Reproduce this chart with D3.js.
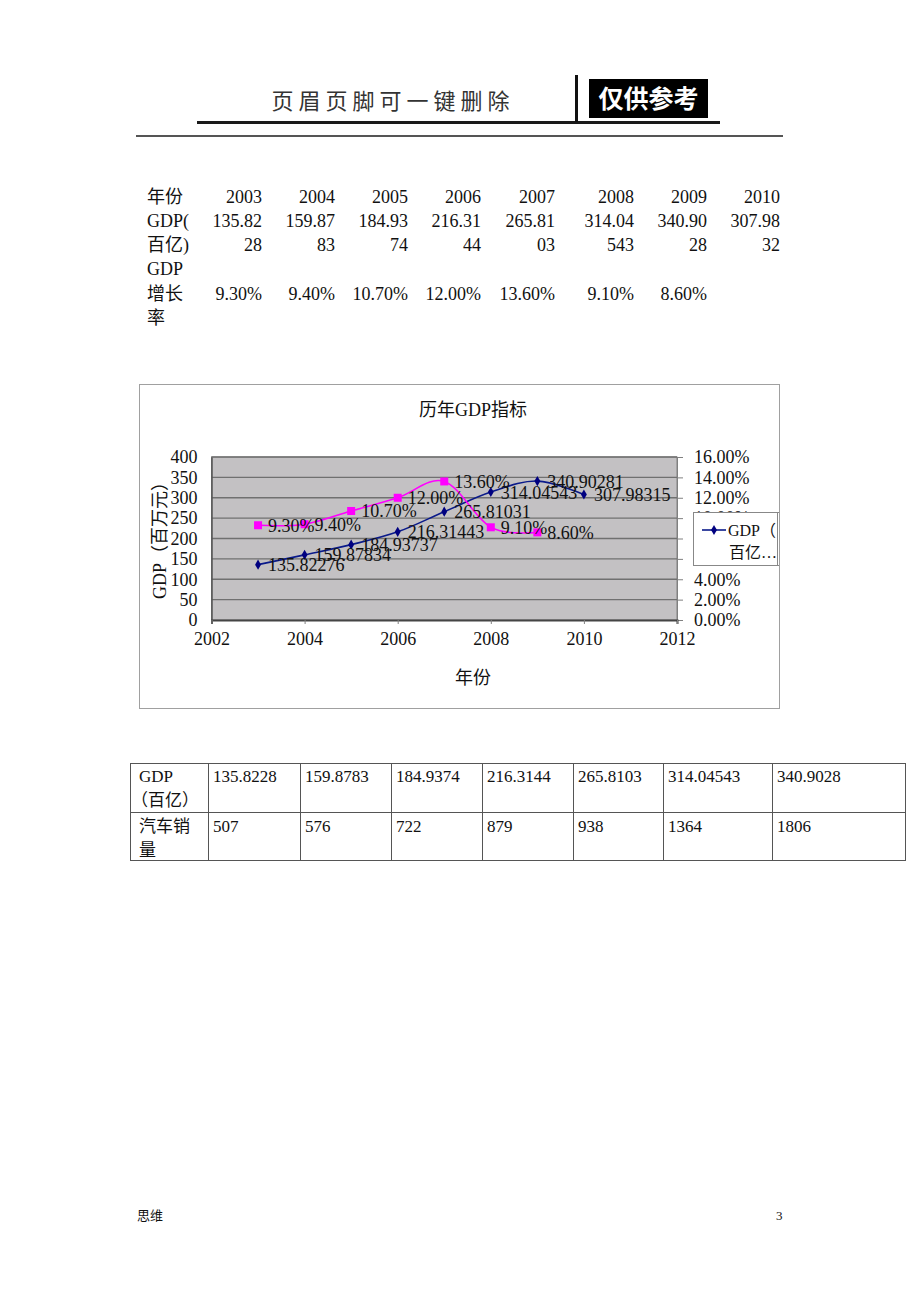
<!DOCTYPE html>
<html>
<head>
<meta charset="utf-8">
<script src="https://cdn.jsdelivr.net/npm/d3@7"></script>
<style>
  html, body { margin: 0; padding: 0; background: #fff; }
  svg { display: block; }
  text { font-family: "Liberation Serif", "Noto Sans CJK SC", serif; fill: #111; }
</style>
</head>
<body>
<svg id="page" width="920" height="1302"></svg>
<script>
// ---------------- data ----------------
const years = [2003, 2004, 2005, 2006, 2007, 2008, 2009, 2010];
const gdp = [135.82276, 159.87834, 184.93737, 216.31443, 265.81031, 314.04543, 340.90281, 307.98315];
const gdpLabels = ["135.82276", "159.87834", "184.93737", "216.31443", "265.81031", "314.04543", "340.90281", "307.98315"];
const growthYears = [2003, 2004, 2005, 2006, 2007, 2008, 2009];
const growth = [0.093, 0.094, 0.107, 0.120, 0.136, 0.091, 0.086];
const growthLabels = ["9.30%", "9.40%", "10.70%", "12.00%", "13.60%", "9.10%", "8.60%"];
const gdpTableText = ["135.8228", "159.8783", "184.9374", "216.3144", "265.8103", "314.04543", "340.9028", "307.9832"];
const carSales = [507, 576, 722, 879, 938, 1364, 1806];
const leftTicks = [0, 50, 100, 150, 200, 250, 300, 350, 400];
const rightTicks = [0, 0.02, 0.04, 0.06, 0.08, 0.10, 0.12, 0.14, 0.16];
const xTicks = [2002, 2004, 2006, 2008, 2010, 2012];

const svg = d3.select("#page");

// ---------------- header ----------------
svg.append("text").attr("x", 393).attr("y", 109).attr("text-anchor", "middle")
  .style("font-size", "22px").style("letter-spacing", "5px").style("fill", "#333")
  .text("页眉页脚可一键删除");
svg.append("line").attr("x1", 197).attr("x2", 720).attr("y1", 122.5).attr("y2", 122.5)
  .attr("stroke", "#1a1a1a").attr("stroke-width", 3);
svg.append("line").attr("x1", 576.5).attr("x2", 576.5).attr("y1", 75).attr("y2", 122)
  .attr("stroke", "#111").attr("stroke-width", 3);
svg.append("rect").attr("x", 589).attr("y", 79).attr("width", 119).attr("height", 39).attr("fill", "#000");
svg.append("text").attr("x", 648.5).attr("y", 108).attr("text-anchor", "middle")
  .style("font-size", "25px").style("fill", "#fff").style("font-weight", "bold").text("仅供参考");
svg.append("line").attr("x1", 136).attr("x2", 783).attr("y1", 136).attr("y2", 136)
  .attr("stroke", "#555").attr("stroke-width", 2);

// ---------------- top table ----------------
const colRight = [262, 335, 408, 481, 555, 634, 707, 780];
const rowY = [203, 227, 251, 275, 300, 324];
const tt = svg.append("g").style("font-size", "18px");
const leftCol = ["年份", "GDP(", "百亿)", "GDP", "增长", "率"];
leftCol.forEach((t, i) => tt.append("text").attr("x", 147).attr("y", rowY[i]).text(t));
years.forEach((y, i) => {
  tt.append("text").attr("x", colRight[i]).attr("y", rowY[0]).attr("text-anchor", "end").text(y);
  tt.append("text").attr("x", colRight[i]).attr("y", rowY[1]).attr("text-anchor", "end").text(gdpTableText[i].slice(0, 6));
  tt.append("text").attr("x", colRight[i]).attr("y", rowY[2]).attr("text-anchor", "end").text(gdpTableText[i].slice(6));
});
growthLabels.forEach((g, i) => {
  tt.append("text").attr("x", colRight[i]).attr("y", rowY[4]).attr("text-anchor", "end").text(g);
});

// ---------------- chart ----------------
svg.append("rect").attr("x", 139.5).attr("y", 384.5).attr("width", 640).attr("height", 324)
  .attr("fill", "#fff").attr("stroke", "#a0a0a0").attr("stroke-width", 1);

svg.append("text").attr("x", 473).attr("y", 416).attr("text-anchor", "middle")
  .style("font-size", "18px").text("历年GDP指标");

const x = d3.scaleLinear().domain([2002, 2012]).range([211.5, 677]);
const yL = d3.scaleLinear().domain([0, 400]).range([620, 457]);
const yR = d3.scaleLinear().domain([0, 0.16]).range([620, 457]);

const defs = svg.append("defs");
defs.append("clipPath").attr("id", "frameClip").append("rect")
  .attr("x", 139).attr("y", 384).attr("width", 640).attr("height", 324);

svg.append("rect").attr("x", x(2002)).attr("y", yL(400)).attr("width", x(2012) - x(2002))
  .attr("height", yL(0) - yL(400)).attr("fill", "#c3c1c3").attr("stroke", "#808080");

// gridlines
svg.append("g").selectAll("line").data(leftTicks.filter(d => d > 0)).join("line")
  .attr("x1", x(2002)).attr("x2", x(2012))
  .attr("y1", d => yL(d)).attr("y2", d => yL(d))
  .attr("stroke", "#707070").attr("stroke-width", 1.3);

// axes
const axL = d3.axisLeft(yL).tickValues(leftTicks).tickSize(0).tickPadding(14).tickFormat(d3.format("d"));
const gL = svg.append("g").attr("transform", `translate(${x(2002)},0)`).call(axL);
gL.select(".domain").attr("stroke", "#555").attr("stroke-width", 1.5);
gL.selectAll("text").style("font-size", "18px").style("font-family", "Liberation Serif").attr("fill", "#111");

const axR = d3.axisRight(yR).tickValues(rightTicks).tickSize(6).tickPadding(11).tickFormat(d3.format(".2%"));
const gR = svg.append("g").attr("transform", `translate(${x(2012)},0)`).call(axR);
gR.select(".domain").attr("stroke", "#808080");
gR.selectAll("line").attr("stroke", "#808080");
gR.selectAll("text").style("font-size", "18px").style("font-family", "Liberation Serif").attr("fill", "#111");

const axB = d3.axisBottom(x).tickValues(xTicks).tickSize(4).tickPadding(8).tickFormat(d3.format("d"));
const gB = svg.append("g").attr("transform", `translate(0,${yL(0)})`).call(axB);
gB.select(".domain").attr("stroke", "#444").attr("stroke-width", 2);
gB.selectAll("line").attr("stroke", "#808080");
gB.selectAll("text").style("font-size", "18px").style("font-family", "Liberation Serif").attr("fill", "#111");

svg.append("text").attr("x", 473).attr("y", 684).attr("text-anchor", "middle")
  .style("font-size", "18px").text("年份");
svg.append("text").attr("transform", "translate(166,536) rotate(-90)").attr("text-anchor", "middle")
  .style("font-size", "18px").text("GDP（百万元）");

// lines
const curve = d3.curveCardinal.tension(0);
const gdpPts = years.map((yr, i) => [x(yr), yL(gdp[i])]);
const grPts = growthYears.map((yr, i) => [x(yr), yR(growth[i])]);

svg.append("path").attr("d", d3.line().curve(curve)(gdpPts))
  .attr("fill", "none").attr("stroke", "#0a1a8a").attr("stroke-width", 1.6);
svg.append("g").selectAll("path").data(gdpPts).join("path")
  .attr("d", d3.symbol(d3.symbolDiamond, 30)())
  .attr("transform", d => `translate(${d[0]},${d[1]})`).attr("fill", "#000080");

svg.append("path").attr("d", d3.line().curve(curve)(grPts))
  .attr("fill", "none").attr("stroke", "#ff00ff").attr("stroke-width", 1.6);
svg.append("g").selectAll("rect").data(grPts).join("rect")
  .attr("x", d => d[0] - 4).attr("y", d => d[1] - 4).attr("width", 8).attr("height", 8)
  .attr("fill", "#ff00ff");

// data labels
const lab = svg.append("g").style("font-size", "18px");
gdpPts.forEach((p, i) => lab.append("text").attr("x", p[0] + 10).attr("y", p[1] + 6.5).text(gdpLabels[i]));
grPts.forEach((p, i) => lab.append("text").attr("x", p[0] + 10).attr("y", p[1] + 6.5).text(growthLabels[i]));

// legend (clipped by chart frame)
const lg = svg.append("g").attr("clip-path", "url(#frameClip)");
lg.append("rect").attr("x", 693.5).attr("y", 512.5).attr("width", 90).attr("height", 53)
  .attr("fill", "#fff").attr("stroke", "#888");
lg.append("line").attr("x1", 702).attr("x2", 726).attr("y1", 530).attr("y2", 530)
  .attr("stroke", "#0a1a8a").attr("stroke-width", 1.6);
lg.append("path").attr("d", d3.symbol(d3.symbolDiamond, 30)()).attr("transform", "translate(714,530)").attr("fill", "#000080");
lg.append("text").attr("x", 728).attr("y", 536).style("font-size", "16px").text("GDP（");
lg.append("text").attr("x", 729).attr("y", 558).style("font-size", "16px").text("百亿…");
svg.append("line").attr("x1", 777.5).attr("x2", 777.5).attr("y1", 512).attr("y2", 566).attr("stroke", "#888");

// ---------------- bottom table ----------------
const colX = [130, 208, 300, 391, 482, 573, 663, 772, 906];
const tb = svg.append("g");
tb.append("rect").attr("x", 130.5).attr("y", 763.5).attr("width", 775).attr("height", 97)
  .attr("fill", "none").attr("stroke", "#555");
tb.append("line").attr("x1", 130).attr("x2", 906).attr("y1", 812.5).attr("y2", 812.5).attr("stroke", "#555");
colX.slice(1, -1).forEach(cx => tb.append("line").attr("x1", cx + 0.5).attr("x2", cx + 0.5)
  .attr("y1", 763).attr("y2", 861).attr("stroke", "#555"));
const tbt = tb.append("g").style("font-size", "17px");
tbt.append("text").attr("x", 139).attr("y", 782).text("GDP");
tbt.append("text").attr("x", 131).attr("y", 806).text("（百亿）");
tbt.append("text").attr("x", 139).attr("y", 832).text("汽车销");
tbt.append("text").attr("x", 139).attr("y", 856).text("量");
gdpTableText.slice(0, 7).forEach((t, i) => {
  tbt.append("text").attr("x", colX[i + 1] + 5).attr("y", 782).text(t);
  tbt.append("text").attr("x", colX[i + 1] + 5).attr("y", 832).text(carSales[i]);
});

// ---------------- footer ----------------
svg.append("text").attr("x", 137).attr("y", 1220).style("font-size", "13px").text("思维");
svg.append("text").attr("x", 776).attr("y", 1220).style("font-size", "13px").text("3");
</script>
</body>
</html>
